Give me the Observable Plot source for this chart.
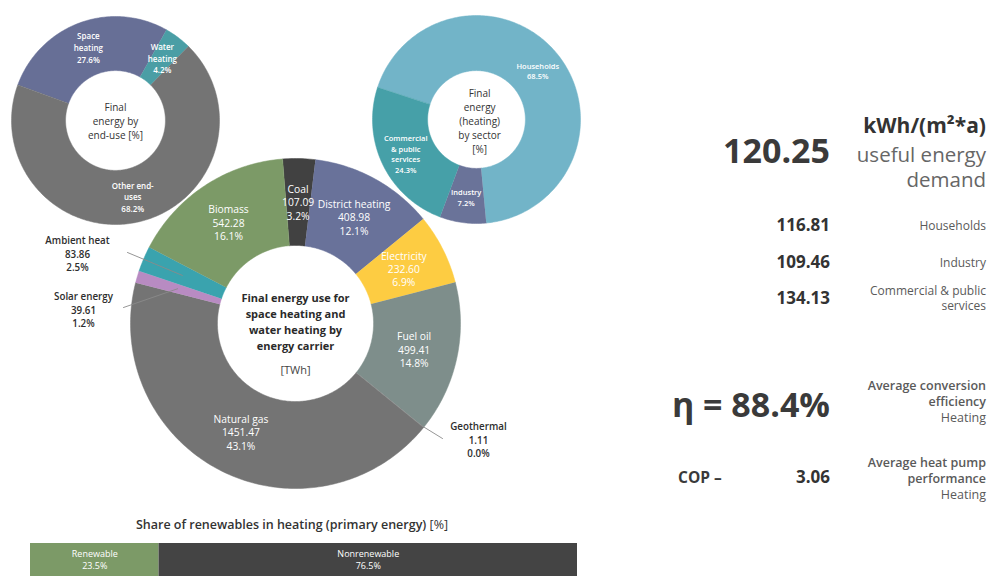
<!DOCTYPE html>
<html><head><meta charset="utf-8">
<script src="https://cdn.jsdelivr.net/npm/d3@7"></script>
<script src="https://cdn.jsdelivr.net/npm/@observablehq/plot@0.6"></script>
<style>
html,body{margin:0;padding:0;background:#fff;}
#root{position:relative;width:989px;height:576px;overflow:hidden;font-family:"Open Sans",sans-serif;color:#333;}
.t{position:absolute;white-space:pre;}
</style></head><body><div id="root"></div>
<script>
// ---------------- DATA ----------------
// Main donut: final energy use for space & water heating by energy carrier [TWh]
const carriers = ["Coal","District heating","Electricity","Fuel oil","Geothermal","Natural gas","Solar energy","Ambient heat","Biomass"];
const carrierTWh = [107.09, 408.98, 232.60, 499.41, 1.11, 1451.47, 39.61, 83.86, 542.28];
const carrierShare = [3.2, 12.1, 6.9, 14.8, 0.0, 43.1, 1.2, 2.5, 16.1];
const carrierColors = ["#414141","#69729a","#fdcc42","#7e8e8b","#8c8c8c","#747474","#b88bc2","#3aa3ae","#7c9a67"];

// Top-left donut: final energy by end-use [%]
const endUses = ["Space\nheating","Water\nheating","Other end-\nuses"];
const endUseShare = [27.6, 4.2, 68.2];
const endUseColors = ["#676f96","#4a9ea5","#747474"];

// Top-right donut: final energy (heating) by sector [%]
const sectors = ["Households","Industry","Commercial\n& public\nservices"];
const sectorShare = [68.5, 7.2, 24.3];
const sectorColors = ["#72b4c8","#6a7399","#46a0a8"];

// Bottom bar: share of renewables in heating (primary energy) [%]
const renewCats = ["Renewable","Nonrenewable"];
const renewShare = [23.5, 76.5];
const renewColors = ["#7c9a67","#444444"];

// Right panel key figures
const usefulDemand = 120.25;
const demandSectors = ["Households","Industry","Commercial & public\nservices"];
const demandValues = [116.81, 109.46, 134.13];
const efficiency = 88.4;
const cop = 3.06;

// ---------------- LAYOUT ----------------
const root = document.getElementById("root");
const FONT = "'Open Sans', sans-serif";

function slices(names, values, startDeg, rIn) {
  const total = d3.sum(values);
  let a = startDeg;
  return names.map((name, i) => {
    const span = values[i] / total * 360;
    const a0 = a, a1 = a + span; a = a1;
    const n = Math.max(2, Math.ceil(span));
    const pts = [];
    for (let k = 0; k <= n; k++) { const t = (a0 + (a1 - a0) * k / n) * Math.PI / 180; pts.push({x: Math.sin(t), y: Math.cos(t)}); }
    for (let k = n; k >= 0; k--) { const t = (a0 + (a1 - a0) * k / n) * Math.PI / 180; pts.push({x: rIn * Math.sin(t), y: rIn * Math.cos(t)}); }
    return {name, i, pts, mid: (a0 + a1) / 2 * Math.PI / 180};
  });
}

function donutPlot({sl, colors, r, width, height, cx, cy, marks}) {
  return Plot.plot({
    width, height, margin: 0,
    x: {axis: null, domain: [-cx / r, (width - cx) / r]},
    y: {axis: null, domain: [-(height - cy) / r, cy / r]},
    style: `background: transparent; overflow: visible; font-family: ${FONT};`,
    marks: [
      ...sl.map(s => Plot.line(s.pts, {x: "x", y: "y", fill: colors[s.i], stroke: colors[s.i], strokeWidth: 0.5, curve: "linear"})),
      ...marks
    ]
  });
}

function put(el, left, top) {
  el.style.position = "absolute"; el.style.left = left + "px"; el.style.top = top + "px";
  root.appendChild(el);
}

// ---- Top-left donut ----
{
  const r = 104, rIn = 0.48;
  const sl = slices(endUses, endUseShare, -70, rIn);
  const lab = sl.map(s => ({x: 0.75 * Math.sin(s.mid), y: 0.75 * Math.cos(s.mid), t: `${s.name}\n${endUseShare[s.i].toFixed(1)}%`}));
  const p = donutPlot({sl, colors: endUseColors, r, width: 240, height: 240, cx: 115, cy: 120, marks: [
    Plot.text(lab, {x: "x", y: "y", text: "t", fill: "white", fontSize: 8, fontWeight: 600, lineHeight: 1.45, fontFamily: FONT}),
    Plot.text([{x: 0, y: 0.0, t: "Final\nenergy by\nend-use [%]"}], {x: "x", y: "y", text: "t", fill: "#333", fontSize: 10, lineHeight: 1.42, fontFamily: FONT})
  ]});
  put(p, 0, 0);
}

// ---- Top-right donut ----
{
  const r = 104, rIn = 0.47;
  const sl = slices(sectors, sectorShare, -72, rIn);
  const lab = sl.map(s => ({x: 0.755 * Math.sin(s.mid), y: 0.755 * Math.cos(s.mid), t: `${s.name}\n${sectorShare[s.i].toFixed(1)}%`}));
  const p = donutPlot({sl, colors: sectorColors, r, width: 240, height: 240, cx: 116, cy: 119, marks: [
    Plot.text(lab, {x: "x", y: "y", text: "t", fill: "white", fontSize: 7.5, fontWeight: 600, lineHeight: 1.4, fontFamily: FONT}),
    Plot.text([{x: 0.03, y: -0.01, t: "Final\nenergy\n(heating)\nby sector\n[%]"}], {x: "x", y: "y", text: "t", fill: "#333", fontSize: 10, lineHeight: 1.4, fontFamily: FONT})
  ]});
  put(p, 360, 0);
}

// ---- Main donut ----
{
  const r = 165, rIn = 0.473, W = 620, H = 370, cx = 295, cy = 183;
  const sl = slices(carriers, carrierTWh, -4.5, rIn);
  const external = {
    "Ambient heat": {tx: -218, ty: -70, lx: -168, ly: -71, lr: 0.745},
    "Solar energy": {tx: -212, ty: -14, lx: -172, ly: -16, lr: 0.745},
    "Geothermal":   {tx: 183,  ty: 116, lx: 147,  ly: 115, lr: 0.98}
  };
  const fmt = (s) => `${s.name}\n${carrierTWh[s.i].toFixed(2)}\n${carrierShare[s.i].toFixed(1)}%`;
  const inner = sl.filter(s => !external[s.name]).map(s => ({x: 0.736 * Math.sin(s.mid), y: 0.736 * Math.cos(s.mid), t: fmt(s)}));
  const ext = sl.filter(s => external[s.name]).map(s => {
    const e = external[s.name];
    return {x: e.tx / r, y: -e.ty / r, t: fmt(s)};
  });
  const leaders = sl.filter(s => external[s.name]).flatMap(s => {
    const e = external[s.name];
    return [
      {k: s.name, x: e.lr * Math.sin(s.mid), y: e.lr * Math.cos(s.mid)},
      {k: s.name, x: e.lx / r, y: -e.ly / r}
    ];
  });
  const p = donutPlot({sl, colors: carrierColors, r, width: W, height: H, cx, cy, marks: [
    Plot.line(leaders, {x: "x", y: "y", z: "k", stroke: "#8a8a8a", strokeWidth: 0.9}),
    Plot.text(inner, {x: "x", y: "y", text: "t", fill: "white", fontSize: 10.3, lineHeight: 1.3, fontFamily: FONT}),
    Plot.text(ext, {x: "x", y: "y", text: "t", fill: "#2e2e2e", fontSize: 9.8, fontWeight: 600, lineHeight: 1.36, fontFamily: FONT}),
    Plot.text([{x: 0, y: 0.015, t: "Final energy use for\nspace heating and\nwater heating by\nenergy carrier"}], {x: "x", y: "y", text: "t", fill: "#2a2a2a", fontSize: 11, fontWeight: 700, lineHeight: 1.45, fontFamily: FONT}),
    Plot.text([{x: 0, y: -0.285, t: "[TWh]"}], {x: "x", y: "y", text: "t", fill: "#444", fontSize: 11, fontFamily: FONT})
  ]});
  put(p, 0, 140);
}

// ---- Bottom bar ----
{
  const rows = renewCats.map((c, i) => ({c, v: renewShare[i], t: `${c}\n${renewShare[i].toFixed(1)}%`}));
  const p = Plot.plot({
    width: 547, height: 34, margin: 0,
    x: {axis: null, domain: [0, 100]},
    color: {domain: renewCats, range: renewColors},
    style: `background: transparent; font-family: ${FONT};`,
    marks: [
      Plot.barX(rows, Plot.stackX({x: "v", fill: "c", order: null})),
      Plot.text(rows, Plot.stackX({x: "v", text: "t", order: null, fill: "white", fontSize: 9, lineHeight: 1.25, dy: -1, fontFamily: FONT}))
    ]
  });
  put(p, 30, 543);
  const title = document.createElement("div");
  title.className = "t";
  title.style.cssText += "font-size:12.5px;color:#333;transform:translate(-50%,-50%);";
  title.innerHTML = "<b style='font-weight:600'>Share of renewables in heating (primary energy)</b> [%]";
  put(title, 292, 524);
}

// ---- Right panel ----
function txt(text, x, y, css, align = "right") {
  const d = document.createElement("div");
  d.className = "t";
  d.textContent = text;
  d.style.cssText += css + `;text-align:${align};transform:translate(${align === "right" ? "-100%" : "0"},-50%);`;
  put(d, x, y);
  return d;
}
txt("kWh/(m²*a)", 986, 125, "font-size:21px;font-weight:700;color:#333;line-height:24px");
txt(usefulDemand.toFixed(2), 830, 150, "font-size:34px;font-weight:700;color:#3a3a3a;line-height:38px");
txt("useful energy\ndemand", 986, 167, "font-size:20.5px;font-weight:400;color:#666;line-height:25px");
const rowY = [225, 262, 298];
demandSectors.forEach((s, i) => {
  txt(demandValues[i].toFixed(2), 830, rowY[i], "font-size:17px;font-weight:700;color:#333;line-height:20px");
  txt(s, 986, rowY[i], "font-size:12px;color:#5a5a5a;line-height:15px");
});
txt(`η = ${efficiency.toFixed(1)}%`, 830, 404, "font-size:34px;font-weight:700;color:#3a3a3a;line-height:38px");
{
  const d = txt("", 986, 402, "font-size:12.5px;color:#5a5a5a;line-height:16px");
  d.innerHTML = "<span style='font-weight:600'>Average conversion\nefficiency</span>\nHeating";
}
txt("COP –", 678, 477, "font-size:15.5px;font-weight:700;color:#3a3a3a;line-height:18px", "left");
txt(cop.toFixed(2), 830, 477, "font-size:17px;font-weight:700;color:#333;line-height:20px");
{
  const d = txt("", 986, 479, "font-size:12.5px;color:#5a5a5a;line-height:16px");
  d.innerHTML = "<span style='font-weight:600'>Average heat pump\nperformance</span>\nHeating";
}
</script></body></html>
